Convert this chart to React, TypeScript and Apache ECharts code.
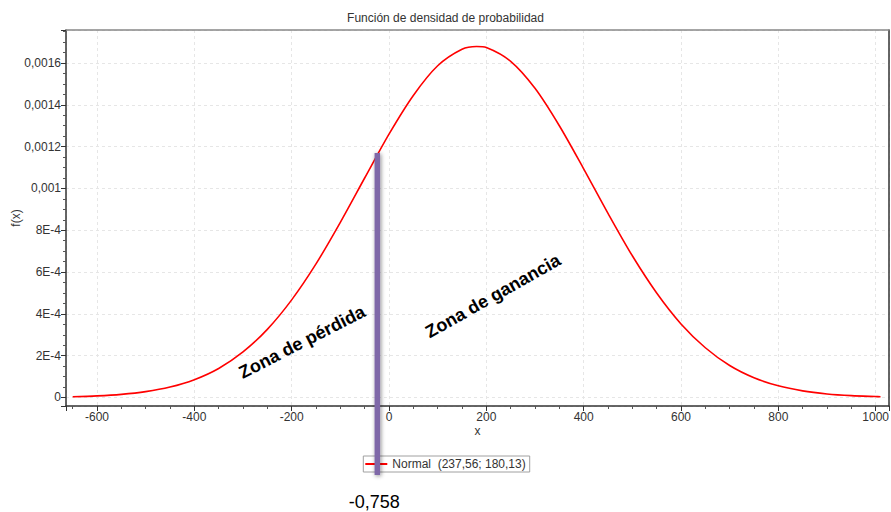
import React, { useEffect, useRef } from "react";
import * as echarts from "echarts";

// Data
const titleText = "Función de densidad de probabilidad";
const seriesName = "Normal  (237,56; 180,13)";
const xValues = [-650, -600, -550, -500, -450, -400, -350, -300, -250, -200, -150, -100, -50, 0, 50, 100, 150, 180, 200, 250, 300, 350, 400, 450, 500, 550, 600, 650, 700, 750, 800, 850, 900, 950, 1000, 1010];
const densityValues = [0.0000037, 0.0000076, 0.0000149, 0.0000279, 0.0000498, 0.0000852, 0.000139, 0.000218, 0.000326, 0.000467, 0.000639, 0.000838, 0.00105, 0.00126, 0.001445, 0.001587, 0.001666, 0.001679, 0.001674, 0.001608, 0.001479, 0.0013, 0.001094, 0.000881, 0.000678, 0.0005, 0.000352, 0.000238, 0.000153, 0.0000945, 0.0000558, 0.0000315, 0.000017, 0.0000088, 0.0000044, 0.0000038];
const xMin = -663.7;
const xMax = 1027.4;
const yMin = -0.0000407;
const yMax = 0.001758;
const markerX = -24;
const markerTop = 0.00117;
const markerLabel = "-0,758";
const lossLabel = "Zona de pérdida";
const gainLabel = "Zona de ganancia";

const FONT = "'Liberation Sans', Arial, sans-serif";

export default function App() {
  const ref = useRef<HTMLDivElement>(null);
  useEffect(() => {
    if (!ref.current) return;
    const chart = echarts.init(ref.current, null, { renderer: "svg" });
    const yFmt = (v: number) => {
      if (Math.abs(v) < 1e-12) return "0";
      if (v < 0.00095) return Math.round(v * 1e4) + "E-4";
      return String(+v.toPrecision(6)).replace(".", ",");
    };
    const xFmt = (v: number) => String(Math.round(v));
    chart.setOption({
      animation: false,
      backgroundColor: "#ffffff",
      textStyle: { fontFamily: FONT },
      title: {
        text: titleText,
        left: "center",
        top: 7,
        textStyle: { fontSize: 12, fontWeight: "normal", color: "#333", fontFamily: FONT },
      },
      legend: {
        data: [seriesName],
        left: "center",
        top: 456,
        icon: "rect",
        itemWidth: 22,
        itemHeight: 2,
        itemGap: 4,
        padding: [2, 4, 2, 2],
        borderColor: "#a0a0a0",
        borderWidth: 1,
        textStyle: { fontSize: 12, color: "#333", fontFamily: FONT },
      },
      grid: { left: 66, right: 2, top: 30, bottom: 106, containLabel: false, outerBoundsMode: "none" },
      xAxis: [
        {
          type: "value",
          min: xMin,
          max: xMax,
          splitNumber: 8,
          minInterval: 200,
          maxInterval: 200,
          name: "x",
          nameLocation: "middle",
          nameGap: 19,
          nameMoveOverlap: false,
          nameTextStyle: { fontSize: 12, color: "#333" },
          axisLine: { show: true, onZero: false, lineStyle: { color: "#333", width: 1.5 } },
          axisTick: { show: true, inside: false, length: 5, lineStyle: { color: "#333" } },
          minorTick: { show: true, splitNumber: 4, length: 3, lineStyle: { color: "#555" } },
          axisLabel: { show: true, showMinLabel: false, showMaxLabel: false, margin: 5, fontSize: 12, color: "#333", formatter: xFmt },
          splitLine: { show: true, lineStyle: { color: "#e6e6e6", type: [3, 3] } },
        },
        {
          type: "value",
          position: "top",
          gridIndex: 0,
          axisLine: { show: true, onZero: false, lineStyle: { color: "#888", width: 1.5 } },
          axisTick: { show: false },
          axisLabel: { show: false },
          splitLine: { show: false },
        },
      ],
      yAxis: [
        {
          type: "value",
          min: yMin,
          max: yMax,
          splitNumber: 9,
          minInterval: 0.0002,
          maxInterval: 0.0002,
          name: "f(x)",
          nameLocation: "middle",
          nameGap: 44,
          nameMoveOverlap: false,
          nameTextStyle: { fontSize: 12, color: "#333" },
          axisLine: { show: true, onZero: false, lineStyle: { color: "#333", width: 1.5 } },
          axisTick: { show: true, inside: false, length: 5, lineStyle: { color: "#333" } },
          minorTick: { show: true, splitNumber: 4, length: 3, lineStyle: { color: "#555" } },
          axisLabel: { show: true, showMinLabel: false, showMaxLabel: false, margin: 5, fontSize: 12, color: "#333", formatter: yFmt },
          splitLine: { show: true, lineStyle: { color: "#e6e6e6", type: [3, 3] } },
        },
        {
          type: "value",
          position: "right",
          axisLine: { show: true, onZero: false, lineStyle: { color: "#333", width: 1.5 } },
          axisTick: { show: false },
          axisLabel: { show: false },
          splitLine: { show: false },
        },
      ],
      series: [
        {
          name: seriesName,
          type: "line",
          xAxisIndex: 0,
          yAxisIndex: 0,
          data: xValues.map((x, i) => [x, densityValues[i]]),
          smooth: 0.3,
          showSymbol: false,
          symbol: "none",
          lineStyle: { color: "#ff0000", width: 1.6 },
          itemStyle: { color: "#ff0000" },
        },
      ],
    });

    const top = chart.convertToPixel({ xAxisIndex: 0, yAxisIndex: 0 }, [markerX, markerTop]) as number[];
    const px = top[0];
    const pyTop = top[1];
    const barBottom = 475;
    const rad = Math.PI / 180;
    chart.setOption({
      graphic: [
        {
          type: "rect",
          shape: { x: px - 2.75, y: pyTop, width: 5.5, height: barBottom - pyTop },
          style: { fill: "#7f68a8", shadowBlur: 4, shadowColor: "rgba(0,0,0,0.45)", shadowOffsetX: 1, shadowOffsetY: 1 },
          z: 100,
        },
        {
          type: "text",
          x: px - 3,
          y: 502,
          style: { text: markerLabel, fontSize: 18, fontFamily: FONT, fill: "#000", align: "center", verticalAlign: "middle" },
          z: 100,
        },
        {
          type: "text",
          x: 302,
          y: 342,
          rotation: 27 * rad,
          style: { text: lossLabel, fontSize: 18, fontWeight: "bold", fontFamily: FONT, fill: "#000", align: "center", verticalAlign: "middle" },
          z: 100,
        },
        {
          type: "text",
          x: 493,
          y: 296,
          rotation: 29.5 * rad,
          style: { text: gainLabel, fontSize: 18, fontWeight: "bold", fontFamily: FONT, fill: "#000", align: "center", verticalAlign: "middle" },
          z: 100,
        },
      ],
    });
    return () => chart.dispose();
  }, []);
  return (
    <div
      ref={ref}
      style={{ position: "absolute", left: 0, top: 0, width: 891, height: 512, background: "#fff" }}
    />
  );
}
